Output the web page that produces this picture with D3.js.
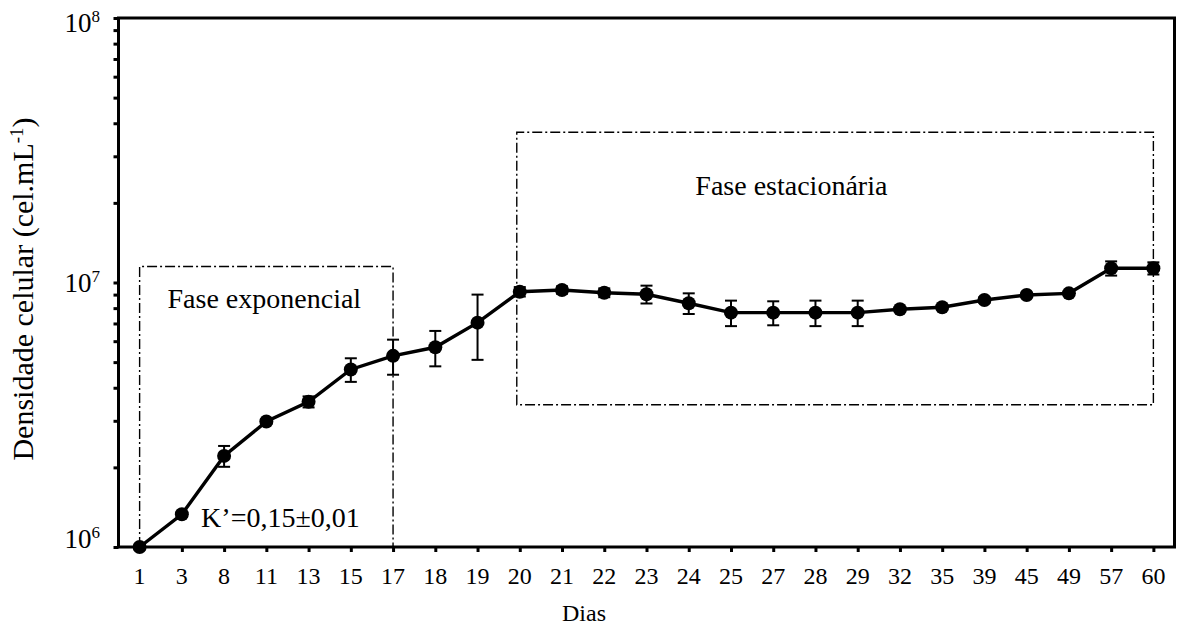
<!DOCTYPE html>
<html>
<head>
<meta charset="utf-8">
<script src="https://cdn.jsdelivr.net/npm/d3@7"></script>
<style>
  html, body { margin: 0; padding: 0; background: #fff; }
  svg { display: block; }
</style>
</head>
<body>
<svg id="chart" width="1177" height="632" font-family="'Liberation Serif', 'DejaVu Serif', serif"></svg>
<script>
// Culture days (categorical x axis)
const days = ["1","3","8","11","13","15","17","18","19","20","21","22","23","24","25","27","28","29","32","35","39","45","49","57","60"];
// Mean cell density (cel.mL-1)
const density = [1.0e6, 1.33e6, 2.21e6, 2.98e6, 3.54e6, 4.69e6, 5.28e6, 5.69e6, 7.05e6, 9.23e6, 9.37e6, 9.15e6, 9.03e6, 8.35e6, 7.69e6, 7.69e6, 7.69e6, 7.69e6, 7.92e6, 8.06e6, 8.59e6, 8.97e6, 9.10e6, 1.132e7, 1.132e7];
// Standard deviation
const stdev = [0.02e6, 0.03e6, 0.20e6, 0.06e6, 0.17e6, 0.48e6, 0.80e6, 0.87e6, 1.95e6, 0.38e6, 0.30e6, 0.35e6, 0.70e6, 0.75e6, 0.85e6, 0.80e6, 0.85e6, 0.85e6, 0.15e6, 0.15e6, 0.20e6, 0.15e6, 0.15e6, 0.70e6, 0.60e6];
// Y axis decades
const yMajor = [1e6, 1e7, 1e8];
// Growth phases: [first day, last day, lower density, upper density]
const phaseExp = ["1", "17", 1e6, 1.15e7];
const phaseStat = ["20", "60", 3.45e6, 3.7e7];

const svg = d3.select("#chart");
const serif = "'Liberation Serif', 'Times New Roman', serif";
const pL = 118.5, pR = 1174.5, pT = 18, pB = 547;

const x = d3.scalePoint().domain(days).range([pL, pR]).padding(0.5);
const y = d3.scaleLog().domain([1e6, 1e8]).range([pB, pT]);

// minor + major ticks on the log axis
const yTicks = [];
for (let d = 1e6; d < 1e8; d *= 10) for (let k = 1; k < 10; k++) yTicks.push(d * k);
yTicks.push(1e8);

// phase boxes (dash-dot)
function phaseBox(p, dx) {
  const x0 = x(p[0]) + dx, x1 = x(p[1]), y0 = y(p[2]), y1 = y(p[3]);
  svg.append("path")
    .attr("d", `M${x0},${y0}V${y1}H${x1}V${y0}` + (p[2] > 1e6 ? "Z" : ""))
    .attr("fill", "none").attr("stroke", "#000").attr("stroke-width", 1.4)
    .attr("stroke-dasharray", "10,3,2,3");
}
phaseBox(phaseExp, 0);
phaseBox(phaseStat, -3);

// axes
const yAxis = svg.append("g").attr("transform", `translate(${pL},0)`)
  .call(d3.axisLeft(y).tickValues(yTicks).tickFormat("").tickSize(5).tickSizeOuter(0));
const xAxis = svg.append("g").attr("transform", `translate(0,${pB})`)
  .call(d3.axisBottom(x).tickSize(5).tickSizeOuter(0).tickFormat(""));
[yAxis, xAxis].forEach(g => {
  g.select(".domain").remove();
  g.selectAll(".tick line").attr("stroke", "#000").attr("stroke-width", 3);
});

// frame
svg.append("rect").attr("x", pL).attr("y", pT)
  .attr("width", pR - pL).attr("height", pB - pT)
  .attr("fill", "none").attr("stroke", "#000").attr("stroke-width", 3);

function txt(g) {
  return g.append("text").attr("font-family", serif).attr("fill", "#000");
}

// x tick labels
svg.append("g").selectAll("text").data(days).join("text")
  .attr("font-family", serif)
  .attr("x", d => x(d)).attr("y", pB + 37)
  .attr("text-anchor", "middle").attr("font-size", 24).text(d => d);

// y tick labels 10^n
const yl = svg.append("g").selectAll("text").data(yMajor).join("text")
  .attr("font-family", serif)
  .attr("x", 100).attr("y", d => Math.min(Math.max(y(d) + 9, 32), pB + 1))
  .attr("text-anchor", "end").attr("font-size", 27);
yl.append("tspan").text("10");
yl.append("tspan").attr("dy", -10).attr("font-size", 17).text(d => Math.round(Math.log10(d)));

// axis titles
txt(svg).attr("x", 584).attr("y", 621)
  .attr("text-anchor", "middle").attr("font-size", 24).text("Dias");
const yt = txt(svg)
  .attr("transform", `translate(33,289) rotate(-90)`)
  .attr("text-anchor", "middle").attr("font-size", 30);
yt.append("tspan").text("Densidade celular (cel.mL");
yt.append("tspan").attr("dy", -10).attr("font-size", 19).text("-1");
yt.append("tspan").attr("dy", 10).text(")");

// annotations
txt(svg).attr("x", x("11") - 2).attr("y", y(8.0e6))
  .attr("text-anchor", "middle").attr("font-size", 28).text("Fase exponencial");
txt(svg).attr("x", (x("27") + x("28")) / 2 - 3).attr("y", y(2.14e7))
  .attr("text-anchor", "middle").attr("font-size", 28).text("Fase estacionária");
txt(svg).attr("x", (x("11") + x("13")) / 2 - 7).attr("y", y(1.19e6))
  .attr("text-anchor", "middle").attr("font-size", 28).text("K’=0,15±0,01");

// data
const pts = days.map((d, i) => ({ d, v: density[i], s: stdev[i] }));

// error bars
const eb = svg.append("g").attr("stroke", "#000").attr("stroke-width", 2);
pts.forEach(p => {
  const cx = x(p.d), y0 = y(p.v - p.s), y1 = y(p.v + p.s);
  eb.append("line").attr("x1", cx).attr("x2", cx).attr("y1", y0).attr("y2", y1);
  eb.append("line").attr("x1", cx - 6).attr("x2", cx + 6).attr("y1", y0).attr("y2", y0);
  eb.append("line").attr("x1", cx - 6).attr("x2", cx + 6).attr("y1", y1).attr("y2", y1);
});

svg.append("path").datum(pts)
  .attr("d", d3.line().x(p => x(p.d)).y(p => y(p.v)))
  .attr("fill", "none").attr("stroke", "#000").attr("stroke-width", 3.4);

svg.append("g").selectAll("circle").data(pts).join("circle")
  .attr("cx", p => x(p.d)).attr("cy", p => y(p.v)).attr("r", 7).attr("fill", "#000");
</script>
</body>
</html>
